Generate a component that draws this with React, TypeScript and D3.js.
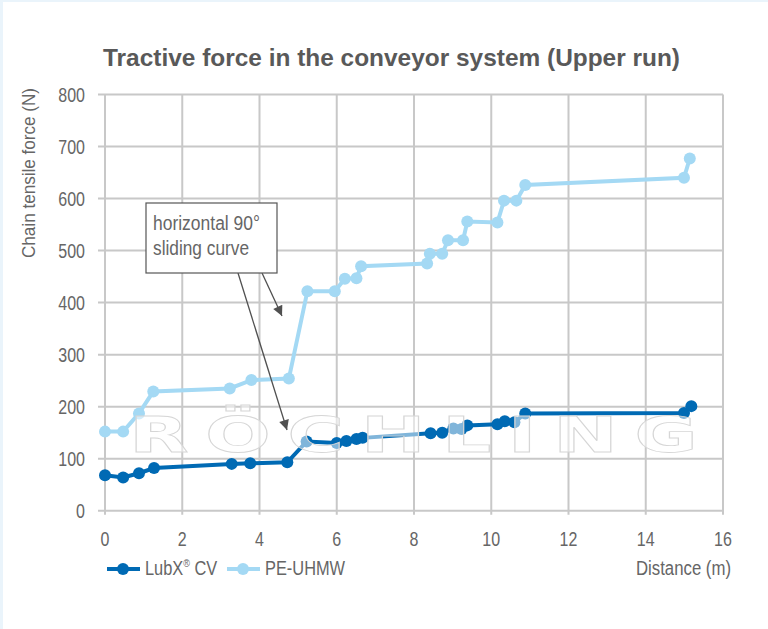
import { useEffect, useRef } from 'react';
import * as d3 from 'd3';

const X_TICKS = [0, 2, 4, 6, 8, 10, 12, 14, 16];
const Y_TICKS = [0, 100, 200, 300, 400, 500, 600, 700, 800];

const DIST_PE = [0, 0.47, 0.88, 1.25, 3.23, 3.79, 4.76, 5.24, 5.95, 6.21, 6.51, 6.63, 8.34, 8.41, 8.73, 8.88, 9.27, 9.38, 10.16, 10.33, 10.65, 10.88, 14.99, 15.14];
const FORCE_PE = [152, 152, 187, 229, 235, 251, 254, 422, 422, 446, 447, 470, 475, 494, 494, 520, 520, 556, 554, 596, 596, 626, 640, 677];

const DIST_LUBX = [0, 0.47, 0.88, 1.27, 3.28, 3.76, 4.72, 5.22, 6.0, 6.25, 6.51, 6.67, 8.43, 8.73, 9.02, 9.23, 9.38, 10.16, 10.35, 10.6, 10.88, 14.99, 15.18];
const FORCE_LUBX = [68, 64, 72, 82, 90, 91, 93, 133, 130, 134, 138, 140, 149, 150, 158, 157, 164, 166, 172, 170, 187, 188, 201];

const DARK = '#006ab4';
const LIGHT = '#a4d9f4';
const GRID = '#c8c8c8';
const TEXT = '#666666';
const FONT = '"Liberation Sans", Arial, sans-serif';

// squeeze a text element horizontally so it looks like a condensed face
function condense(t: d3.Selection<SVGTextElement, any, any, any>, k: number) {
  t.each(function () {
    const len = this.getComputedTextLength();
    d3.select(this).attr('textLength', len * k).attr('lengthAdjust', 'spacingAndGlyphs');
  });
}

export default function App() {
  const svgRef = useRef<SVGSVGElement>(null);

  useEffect(() => {
    document.body.style.margin = '0';
    if (!svgRef.current) return;
    const svg = d3.select(svgRef.current);
    svg.selectAll('*').remove();

    const x = d3.scaleLinear().domain([0, 16]).range([105, 723]);
    const y = d3.scaleLinear().domain([0, 800]).range([510.7, 94.5]);

    // page background with thin blue frame
    svg.append('rect').attr('width', 768).attr('height', 629).attr('fill', '#eaf4fb');
    svg.append('rect').attr('x', 3).attr('y', 2).attr('width', 765).attr('height', 627).attr('fill', '#fff');

    const defs = svg.append('defs');
    defs.append('marker')
      .attr('id', 'arr')
      .attr('viewBox', '0 0 10 10')
      .attr('refX', 10)
      .attr('refY', 5)
      .attr('markerWidth', 13)
      .attr('markerHeight', 10)
      .attr('markerUnits', 'userSpaceOnUse')
      .attr('orient', 'auto')
      .append('path')
      .attr('d', 'M0,0 L10,5 L0,10 Z')
      .attr('fill', '#505050');

    // title
    svg.append('text')
      .attr('x', 103)
      .attr('y', 66)
      .attr('font-family', FONT)
      .attr('font-weight', 'bold')
      .attr('font-size', 24)
      .attr('fill', '#595959')
      .attr('textLength', 577)
      .attr('lengthAdjust', 'spacingAndGlyphs')
      .text('Tractive force in the conveyor system (Upper run)');

    // grid
    const grid = svg.append('g');
    grid.selectAll('line.h')
      .data(Y_TICKS)
      .join('line')
      .attr('class', 'h')
      .attr('x1', 98)
      .attr('x2', x(16))
      .attr('y1', (d) => y(d))
      .attr('y2', (d) => y(d))
      .attr('stroke', GRID)
      .attr('stroke-width', 2);
    grid.selectAll('line.v')
      .data(X_TICKS)
      .join('line')
      .attr('class', 'v')
      .attr('x1', (d) => x(d))
      .attr('x2', (d) => x(d))
      .attr('y1', y(800))
      .attr('y2', y(0) + 4)
      .attr('stroke', GRID)
      .attr('stroke-width', 2);

    // tick labels
    const yl = svg.append('g')
      .selectAll<SVGTextElement, number>('text')
      .data(Y_TICKS)
      .join('text')
      .attr('x', 85)
      .attr('y', (d) => y(d) + 7)
      .attr('text-anchor', 'end')
      .attr('font-family', FONT)
      .attr('font-size', 20)
      .attr('fill', TEXT)
      .text((d) => d);
    condense(yl, 0.8);
    const xl = svg.append('g')
      .selectAll<SVGTextElement, number>('text')
      .data(X_TICKS)
      .join('text')
      .attr('x', (d) => x(d))
      .attr('y', 546)
      .attr('text-anchor', 'middle')
      .attr('font-family', FONT)
      .attr('font-size', 20)
      .attr('fill', TEXT)
      .text((d) => d);
    condense(xl, 0.8);

    // axis titles
    svg.append('text')
      .attr('transform', 'translate(35,88) rotate(-90)')
      .attr('text-anchor', 'end')
      .attr('font-family', FONT)
      .attr('font-size', 18)
      .attr('fill', TEXT)
      .attr('textLength', 170)
      .attr('lengthAdjust', 'spacingAndGlyphs')
      .text('Chain tensile force (N)');
    svg.append('text')
      .attr('x', 731)
      .attr('y', 575)
      .attr('text-anchor', 'end')
      .attr('font-family', FONT)
      .attr('font-size', 20)
      .attr('fill', TEXT)
      .attr('textLength', 95)
      .attr('lengthAdjust', 'spacingAndGlyphs')
      .text('Distance (m)');

    // series
    const line = d3.line<[number, number]>().x((d) => x(d[0])).y((d) => y(d[1]));
    const series = [
      { pts: DIST_PE.map((d, i) => [d, FORCE_PE[i]] as [number, number]), color: LIGHT },
      { pts: DIST_LUBX.map((d, i) => [d, FORCE_LUBX[i]] as [number, number]), color: DARK },
    ];
    series.forEach((s) => {
      const g = svg.append('g');
      g.append('path')
        .attr('d', line(s.pts))
        .attr('fill', 'none')
        .attr('stroke', s.color)
        .attr('stroke-width', 4);
      g.selectAll('circle')
        .data(s.pts)
        .join('circle')
        .attr('cx', (d) => x(d[0]))
        .attr('cy', (d) => y(d[1]))
        .attr('r', 6)
        .attr('fill', s.color);
    });

    // watermark
    svg.append('g')
      .attr('transform', 'translate(129,452) scale(1.55,1)')
      .append('text')
      .attr('x', 0)
      .attr('y', 0)
      .attr('textLength', 367)
      .attr('lengthAdjust', 'spacing')
      .attr('font-family', '"DejaVu Sans", sans-serif')
      .attr('font-weight', 'bold')
      .attr('font-size', 50)
      .attr('fill', '#ffffff')
      .attr('fill-opacity', 0.5)
      .attr('stroke', '#d6d6d6')
      .attr('stroke-width', 0.8)
      .text('RÖCHLING');

    // annotation
    const ann = svg.append('g');
    ann.append('line')
      .attr('x1', 238).attr('y1', 273)
      .attr('x2', 287).attr('y2', 430)
      .attr('stroke', '#505050').attr('stroke-width', 1.3)
      .attr('marker-end', 'url(#arr)');
    ann.append('line')
      .attr('x1', 262).attr('y1', 273)
      .attr('x2', 282).attr('y2', 316)
      .attr('stroke', '#505050').attr('stroke-width', 1.3)
      .attr('marker-end', 'url(#arr)');
    ann.append('rect')
      .attr('x', 146).attr('y', 203)
      .attr('width', 131).attr('height', 70)
      .attr('fill', '#fff')
      .attr('stroke', '#555')
      .attr('stroke-width', 1.2);
    const annText = [
      { t: 'horizontal 90°', w: 107 },
      { t: 'sliding curve', w: 96 },
    ];
    annText.forEach((a, i) => {
      ann.append('text')
        .attr('x', 153)
        .attr('y', 230 + i * 25)
        .attr('font-family', FONT)
        .attr('font-size', 20)
        .attr('fill', TEXT)
        .attr('textLength', a.w)
        .attr('lengthAdjust', 'spacingAndGlyphs')
        .text(a.t);
    });

    // legend
    const legend = [
      { label: 'LubX', sup: '®', rest: ' CV', color: DARK, x0: 107 },
      { label: 'PE-UHMW', sup: '', rest: '', color: LIGHT, x0: 227 },
    ];
    legend.forEach((l) => {
      svg.append('line')
        .attr('x1', l.x0).attr('x2', l.x0 + 33)
        .attr('y1', 569).attr('y2', 569)
        .attr('stroke', l.color).attr('stroke-width', 4);
      svg.append('circle')
        .attr('cx', l.x0 + 16).attr('cy', 569).attr('r', 6)
        .attr('fill', l.color);
      const t = svg.append('g')
        .attr('transform', `translate(${l.x0 + 38},575) scale(0.82,1)`)
        .append('text')
        .attr('font-family', FONT)
        .attr('font-size', 20)
        .attr('fill', TEXT);
      t.append('tspan').text(l.label);
      if (l.sup) {
        t.append('tspan').attr('font-size', 11).attr('dy', -8).text(l.sup);
        t.append('tspan').attr('dy', 8).text(l.rest);
      }
    });
  }, []);

  return <svg ref={svgRef} width={768} height={629} style={{ display: 'block' }} />;
}
